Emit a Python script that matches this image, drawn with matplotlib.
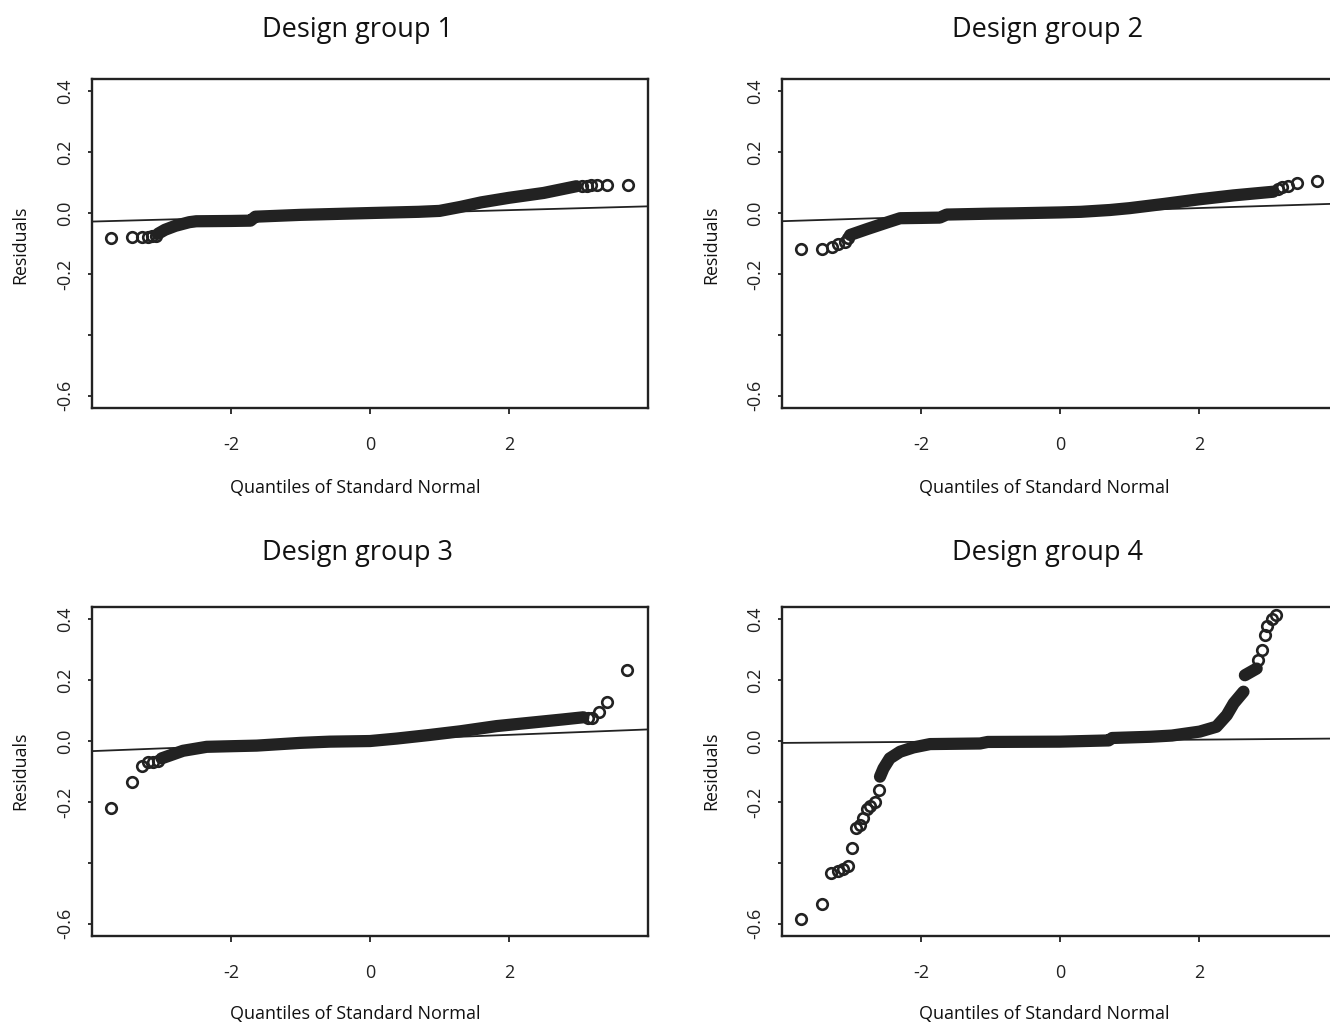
import matplotlib
matplotlib.use("Agg")
import matplotlib.pyplot as plt

plt.rcParams['font.family'] = ['Open Sans', 'DejaVu Sans']

# ---------------- data ----------------
titles = ["Design group 1", "Design group 2", "Design group 3", "Design group 4"]
x_label = "Quantiles of Standard Normal"
y_label = "Residuals"
x_ticks = [-2, 0, 2]
x_tick_labels = ["-2", "0", "2"]
y_ticks = [0.4, 0.2, 0.0, -0.2, -0.4, -0.6]
y_tick_labels = ["0.4", "0.2", "0.0", "-0.2", "", "-0.6"]

# Design group 1
g1_low_x = [-3.72, -3.43, -3.28, -3.19, -3.13, -3.08]
g1_low_y = [-0.082, -0.079, -0.078, -0.078, -0.077, -0.075]
g1_core_x = [-3.05, -2.95, -2.80, -2.60, -2.50, -2.00, -1.72, -1.65, -1.00, 0.00, 0.70, 1.00, 1.30, 1.60, 2.00, 2.50, 2.97]
g1_core_y = [-0.068, -0.055, -0.042, -0.030, -0.027, -0.026, -0.025, -0.012, -0.006, 0.000, 0.004, 0.007, 0.020, 0.035, 0.050, 0.066, 0.088]
g1_high_x = [3.05, 3.12, 3.18, 3.27, 3.41, 3.71]
g1_high_y = [0.089, 0.090, 0.091, 0.092, 0.092, 0.093]
g1_line = (-0.003, 0.00625)   # intercept, slope

# Design group 2
g2_low_x = [-3.72, -3.43, -3.28, -3.19, -3.09, -3.05]
g2_low_y = [-0.119, -0.118, -0.113, -0.100, -0.094, -0.083]
g2_core_x = [-3.02, -2.78, -2.49, -2.30, -2.00, -1.73, -1.63, -1.00, -0.67, 0.00, 0.30, 0.72, 1.00, 1.50, 2.00, 2.50, 3.07]
g2_core_y = [-0.072, -0.053, -0.031, -0.017, -0.016, -0.015, -0.005, -0.002, -0.001, 0.002, 0.004, 0.010, 0.016, 0.030, 0.045, 0.058, 0.070]
g2_high_x = [3.14, 3.19, 3.28, 3.41, 3.70]
g2_high_y = [0.080, 0.085, 0.089, 0.100, 0.105]
g2_line = (0.002, 0.0072)

# Design group 3
g3_low_x = [-3.72, -3.43, -3.28, -3.19, -3.12, -3.05]
g3_low_y = [-0.221, -0.135, -0.081, -0.070, -0.068, -0.064]
g3_core_x = [-3.00, -2.69, -2.35, -2.00, -1.63, -1.00, -0.58, 0.00, 0.38, 0.86, 1.30, 1.82, 2.30, 2.78, 3.07]
g3_core_y = [-0.057, -0.032, -0.019, -0.017, -0.015, -0.006, -0.002, 0.000, 0.008, 0.020, 0.032, 0.049, 0.060, 0.071, 0.078]
g3_high_x = [3.14, 3.19, 3.29, 3.41, 3.70]
g3_high_y = [0.074, 0.076, 0.095, 0.127, 0.234]
g3_line = (0.0025, 0.0089)

# Design group 4
g4_low_x = [-3.72, -3.43, -3.30, -3.19, -3.12, -3.05, -3.00, -2.94, -2.88, -2.83, -2.78, -2.73, -2.66, -2.60]
g4_low_y = [-0.584, -0.536, -0.434, -0.425, -0.420, -0.409, -0.352, -0.286, -0.275, -0.254, -0.224, -0.213, -0.199, -0.161]
g4_core_x = [-2.59, -2.54, -2.45, -2.30, -2.11, -1.87, -1.15, -1.04, 0.00, 0.70, 0.75, 1.30, 1.61, 2.01, 2.25, 2.40, 2.50, 2.64]
g4_core_y = [-0.117, -0.090, -0.057, -0.035, -0.021, -0.010, -0.008, -0.003, -0.002, 0.002, 0.010, 0.014, 0.018, 0.031, 0.047, 0.085, 0.124, 0.162]
g4_core2_x = [2.66, 2.83]
g4_core2_y = [0.216, 0.238]
g4_high_x = [2.85, 2.91, 2.95, 2.98, 3.05, 3.11]
g4_high_y = [0.266, 0.298, 0.348, 0.377, 0.402, 0.413]
g4_line = (0.001, 0.0018)

groups = [
    dict(low=(g1_low_x, g1_low_y), cores=[(g1_core_x, g1_core_y)], high=(g1_high_x, g1_high_y), line=g1_line),
    dict(low=(g2_low_x, g2_low_y), cores=[(g2_core_x, g2_core_y)], high=(g2_high_x, g2_high_y), line=g2_line),
    dict(low=(g3_low_x, g3_low_y), cores=[(g3_core_x, g3_core_y)], high=(g3_high_x, g3_high_y), line=g3_line),
    dict(low=(g4_low_x, g4_low_y), cores=[(g4_core_x, g4_core_y), (g4_core2_x, g4_core2_y)],
         high=(g4_high_x, g4_high_y), line=g4_line),
]

# ---------------- layout ----------------
W, H = 1330, 1025
fig = plt.figure(figsize=(W / 100, H / 100), dpi=100)
fig.patch.set_facecolor("white")

# pixel boxes: left, top, right, bottom
boxes = [(92, 79, 648, 408), (782, 79, 1338, 408),
         (92, 607, 648, 936), (782, 607, 1338, 936)]
title_pos = [(357, 30), (1048, 30), (357, 553), (1048, 553)]
xlab_pos = [(355, 488), (1044, 488), (355, 1014), (1044, 1014)]
ylab_pos = [(20, 245), (711, 245), (20, 771), (711, 771)]

ink = "#222222"

for i, g in enumerate(groups):
    l, t, r, b = boxes[i]
    ax = fig.add_axes([l / W, 1 - b / H, (r - l) / W, (b - t) / H])
    ax.set_xlim(-4.0, 4.0)
    ax.set_ylim(-0.64, 0.44)

    icpt, slope = g["line"]
    ax.axline((0, icpt), slope=slope, color=ink, lw=1.3, zorder=2)

    for cx, cy in g["cores"]:
        ax.plot(cx, cy, color=ink, lw=8.8, solid_capstyle="round",
                solid_joinstyle="round", zorder=3)
    for key in ("low", "high"):
        px, py = g[key]
        ax.plot(px, py, linestyle="none", marker="o", ms=7.6, mew=1.9,
                mfc="none", mec=ink, zorder=4)

    ax.set_xticks(x_ticks)
    ax.set_xticklabels(x_tick_labels)
    ax.set_yticks(y_ticks)
    ax.set_yticklabels(y_tick_labels)
    ax.tick_params(axis="x", direction="out", length=4.5, width=1.3, pad=16,
                   labelsize=13, colors=ink)
    ax.tick_params(axis="y", direction="out", length=3.0, width=1.3, pad=10,
                   labelsize=13, colors=ink)
    for lbl in ax.get_yticklabels():
        lbl.set_rotation(90)
        lbl.set_va("center")
    for s in ax.spines.values():
        s.set_linewidth(1.7)
        s.set_color(ink)

    fig.text(title_pos[i][0] / W, 1 - title_pos[i][1] / H, titles[i],
             ha="center", va="center", fontsize=19.5, color="#111111")
    fig.text(xlab_pos[i][0] / W, 1 - xlab_pos[i][1] / H, x_label,
             ha="center", va="center", fontsize=13, color="#111111")
    fig.text(ylab_pos[i][0] / W, 1 - ylab_pos[i][1] / H, y_label,
             ha="center", va="center", rotation=90, fontsize=12.8, color="#111111")

fig.savefig("out.png", dpi=100, facecolor="white")
